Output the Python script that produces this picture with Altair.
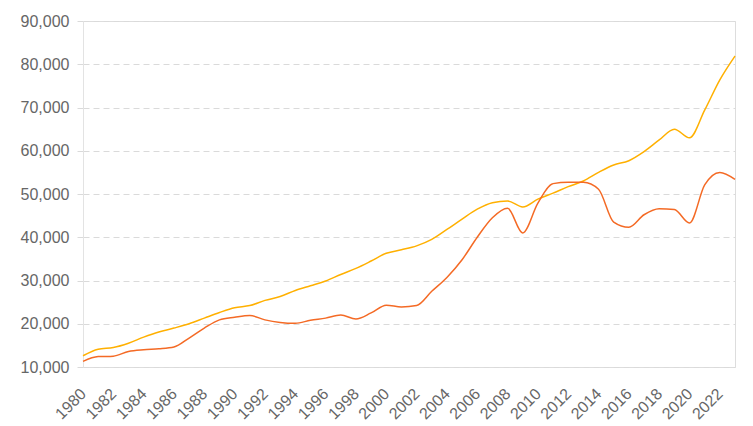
import altair as alt
import pandas as pd

years = list(range(1980, 2024))
series_a = [12600, 14100, 14500, 15500, 16900, 18100, 19000, 20000, 21300, 22600,
            23700, 24200, 25400, 26300, 27700, 28800, 29900, 31400, 32800, 34500,
            36300, 37100, 38000, 39500, 41800, 44200, 46500, 48000, 48400, 47000,
            48800, 50200, 51700, 53000, 55000, 56700, 57700, 59800, 62500, 65000,
            63000, 69400, 76400, 81900]
series_b = [11300, 12400, 12500, 13600, 14000, 14200, 14600, 16700, 19000, 20900,
            21500, 21900, 20900, 20300, 20100, 20800, 21300, 22000, 21100, 22500,
            24300, 23900, 24200, 27500, 30700, 34800, 40000, 44500, 46700, 41000,
            47900, 52400, 52700, 52700, 51100, 43500, 42300, 45200, 46600, 46400,
            43300, 52100, 55000, 53400]
x_ticks = list(range(1980, 2023, 2))
y_ticks = list(range(10000, 90001, 10000))

df = pd.DataFrame({
    "year": years * 2,
    "value": series_a + series_b,
    "series": ["A"] * len(years) + ["B"] * len(years),
})

font = "Liberation Sans"

chart = alt.Chart(df).mark_line(interpolate="monotone", strokeWidth=1.5).encode(
    x=alt.X("year:Q",
            scale=alt.Scale(domain=[1980, 2023], nice=False, zero=False),
            axis=alt.Axis(values=x_ticks, format="d", title=None, labelAngle=-45,
                          labelAlign="right", labelBaseline="middle", labelPadding=24,
                          labelFontSize=16, labelColor="#666666", labelFont=font,
                          grid=False, ticks=False, domain=False, labelOverlap=False)),
    y=alt.Y("value:Q",
            scale=alt.Scale(domain=[10000, 90000], nice=False, zero=False),
            axis=alt.Axis(values=y_ticks, format=",d", title=None,
                          labelFontSize=16, labelColor="#666666", labelFont=font,
                          labelPadding=4,
                          grid=True, gridColor="#dadada", gridDash=[6, 4], gridWidth=1,
                          ticks=True, tickSize=10, tickColor="#dadada", tickDash=[6, 4],
                          domain=True, domainColor="#e3e3e3", domainWidth=1)),
    color=alt.Color("series:N",
                    scale=alt.Scale(domain=["A", "B"], range=["#FFB000", "#F46A25"]),
                    legend=None),
    order=alt.Order("series:N"),
).properties(
    width=652,
    height=346,
    padding={"left": 83, "top": 21, "right": 18, "bottom": 59},
    autosize=alt.AutoSizeParams(type="none"),
).configure_view(strokeWidth=0).configure(background="white")

chart.save("out.html", embed_options={"renderer": "svg", "actions": False})
